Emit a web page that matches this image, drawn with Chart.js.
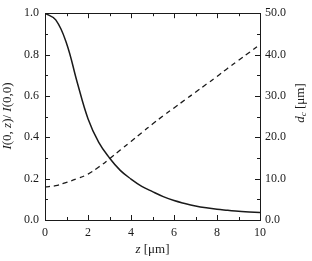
<!DOCTYPE html>
<html><head><meta charset="utf-8">
<script src="https://cdn.jsdelivr.net/npm/chart.js@4/dist/chart.umd.min.js"></script>
<style>html,body{margin:0;padding:0;background:#fff}#wrap{width:312px;height:261px}</style>
</head><body><div id="wrap"><canvas id="c"></canvas></div>
<script>
const zValues   = [0,0.5,1,1.5,2,2.5,3,3.5,4,4.5,5,5.5,6,6.5,7,7.5,8,8.5,9,9.5,10];
const intensity = [1.0,0.968,0.855,0.665,0.49,0.375,0.30,0.24,0.198,0.163,0.137,0.113,0.094,0.080,0.068,0.059,0.052,0.047,0.042,0.039,0.036];
const diameter  = [8.0,8.3,9.1,10.0,11.1,12.8,14.8,16.9,19.0,21.1,23.2,25.2,27.1,29.0,30.9,32.8,34.7,36.7,38.6,40.5,42.4];
const xTicks = [0,2,4,6,8,10];
const leftTicks = [0.0,0.2,0.4,0.6,0.8,1.0];
const rightTicks = [0,10,20,30,40,50];

const serif = "'Liberation Serif','DejaVu Serif',serif";
const ink = '#1a1a1a';

const tickPlugin = {
  id:'inwardTicks',
  afterDatasetsDraw(chart){
    const {ctx, chartArea:a, scales} = chart;
    const x = scales.x, yl = scales.y, yr = scales.y2;
    ctx.save();
    ctx.strokeStyle = ink; ctx.lineWidth = 1;
    ctx.beginPath();
    for(let v=0; v<=10; v+=1){
      const p = Math.round(x.getPixelForValue(v))+0.5, L = (v%2===0)?5:3;
      ctx.moveTo(p,a.bottom); ctx.lineTo(p,a.bottom-L);
      ctx.moveTo(p,a.top); ctx.lineTo(p,a.top+L);
    }
    for(let i=0;i<=10;i++){
      const p = Math.round(yl.getPixelForValue(i/10))+0.5, L = (i%2===0)?5:3;
      ctx.moveTo(a.left,p); ctx.lineTo(a.left+L,p);
    }
    for(let v=0; v<=50; v+=5){
      const p = Math.round(yr.getPixelForValue(v))+0.5, L = (v%10===0)?5:3;
      ctx.moveTo(a.right,p); ctx.lineTo(a.right-L,p);
    }
    ctx.stroke();
    ctx.strokeRect(Math.round(a.left)+0.5, Math.round(a.top)+0.5, Math.round(a.right-a.left), Math.round(a.bottom-a.top));
    ctx.fillStyle = ink; ctx.textBaseline='middle';
    function runs(parts, cx, cy, rot){
      ctx.save(); ctx.translate(cx,cy); ctx.rotate(rot);
      let w=0;
      parts.forEach(p=>{ctx.font=(p.i?'italic ':'')+p.s+'px '+serif; w+=ctx.measureText(p.t).width;});
      let xx=-w/2;
      parts.forEach(p=>{ctx.font=(p.i?'italic ':'')+p.s+'px '+serif; ctx.textAlign='left'; ctx.fillText(p.t,xx,p.dy||0); xx+=ctx.measureText(p.t).width;});
      ctx.restore();
    }
    runs([{t:'I',i:1,s:13},{t:'(0, ',s:13},{t:'z',i:1,s:13},{t:')/ ',s:13},{t:'I',i:1,s:13},{t:'(0,0)',s:13}], 8, 116, -Math.PI/2);
    runs([{t:'d',i:1,s:13},{t:'c',i:1,s:9,dy:3},{t:' [μm]',s:13}], 301, 103, -Math.PI/2);
    runs([{t:'z',i:1,s:13},{t:' [μm]',s:13}], (a.left+a.right)/2, 250, 0);
    ctx.restore();
  }
};

new Chart(document.getElementById('c'), {
  type:'line',
  data:{datasets:[
    {data: zValues.map((z,i)=>({x:z,y:intensity[i]})), yAxisID:'y', borderColor:ink, borderWidth:1.5, pointRadius:0, tension:0.4, fill:false},
    {data: zValues.map((z,i)=>({x:z,y:diameter[i]})), yAxisID:'y2', borderColor:ink, borderWidth:1.3, borderDash:[5,4], pointRadius:0, tension:0.4, fill:false}
  ]},
  options:{
    responsive:true, maintainAspectRatio:false, animation:false, devicePixelRatio:1,
    layout:{padding:{top:6,left:0,right:0,bottom:0}},
    plugins:{legend:{display:false}, tooltip:{enabled:false}},
    scales:{
      x:{type:'linear', min:0, max:10,
        afterBuildTicks(s){s.ticks = xTicks.map(v=>({value:v}));},
        afterFit(s){s.height=41;},
        grid:{display:false, drawTicks:false}, border:{display:true,color:ink,width:1},
        ticks:{color:ink, font:{family:serif,size:12}, padding:6, maxRotation:0, callback:v=>String(v)}},
      y:{type:'linear', position:'left', min:0, max:1,
        afterBuildTicks(s){s.ticks = leftTicks.map(v=>({value:v}));},
        afterFit(s){s.width=45;},
        grid:{display:false, drawTicks:false}, border:{display:true,color:ink,width:1},
        ticks:{color:ink, font:{family:serif,size:12}, padding:6, callback:v=>Number(v).toFixed(1)}},
      y2:{type:'linear', position:'right', min:0, max:50,
        afterBuildTicks(s){s.ticks = rightTicks.map(v=>({value:v}));},
        afterFit(s){s.width=52;},
        grid:{display:false, drawTicks:false}, border:{display:true,color:ink,width:1},
        ticks:{color:ink, font:{family:serif,size:12}, padding:5, callback:v=>Number(v).toFixed(1)}}
    }
  },
  plugins:[tickPlugin]
});
</script></body></html>
